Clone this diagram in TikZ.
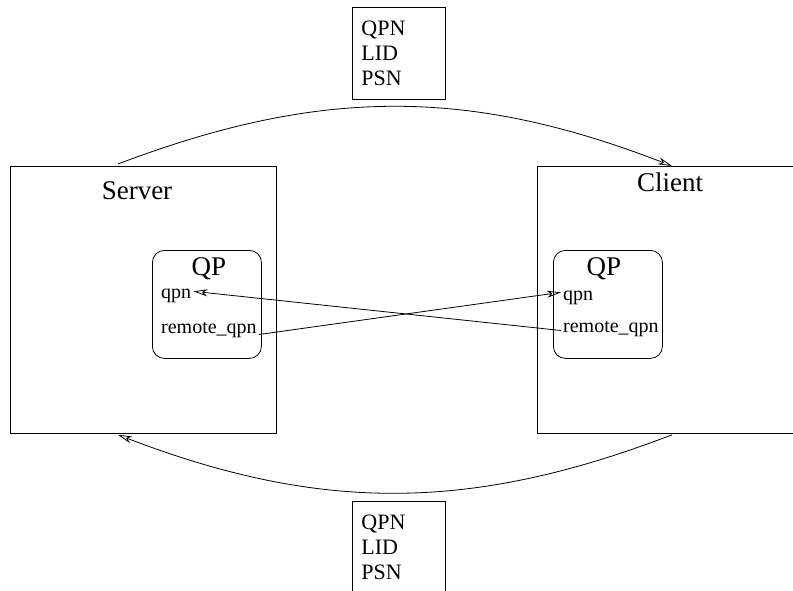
\documentclass[tikz,border=0pt]{standalone}
\usepackage{fontspec}
\setmainfont{Liberation Serif}
\usetikzlibrary{arrows.meta,calc}
\begin{document}
\begin{tikzpicture}[x=1pt,y=1pt]
		% Styles
		\tikzstyle{hostbox}=[draw,line width=0.8pt,minimum width=266pt,minimum height=267pt,anchor=north west,inner sep=0pt]
		\tikzstyle{qpbox}=[draw,line width=0.8pt,rounded corners=12pt,minimum width=109pt,minimum height=108pt,anchor=north west,inner sep=0pt]
		\tikzstyle{msgbox}=[draw,line width=0.8pt,anchor=north west,align=left,text width=75pt,inner xsep=9pt,minimum height=92pt,font=\fontsize{22}{25}\selectfont]
		\tikzstyle{field}=[anchor=base west,inner sep=2pt,font=\fontsize{20}{24}\selectfont]
		\tikzstyle{title}=[anchor=base,inner sep=0pt,font=\fontsize{27}{30}\selectfont]
		\tikzstyle{msgarrow}=[draw,line width=0.8pt,-{Stealth[open,length=14pt,width=7pt,inset=4pt]}]

		\useasboundingbox (0,0) rectangle (793,-590);

		% Hosts
		\node[hostbox] (server) at (10,-166) {};
		\node[hostbox,minimum width=256pt] (client) at (537,-166) {};
		\node[title] (servername) at (137,-199) {Server};
		\node[title] (clientname) at (670,-191) {Client};

		% Queue pairs
		\node[qpbox] (sqp) at (152,-250) {};
		\node[qpbox] (cqp) at (553,-250) {};
		\node[title] (sqpname) at (209,-275) {QP};
		\node[title] (cqpname) at (604,-275) {QP};
		\node[field] (sqpn) at (159,-298) {qpn};
		\node[field] (sremote) at (159,-333) {remote\_qpn};
		\node[field] (cqpn) at (561,-300) {qpn};
		\node[field] (cremote) at (561,-332) {remote\_qpn};

		% Messages
		\node[msgbox] (reqmsg) at (352,-7) {QPN\\LID\\PSN};
		\node[msgbox] (repmsg) at (352,-501) {QPN\\LID\\PSN};

		% End points of the exchange
		\coordinate (srvtop) at ($(server.north west)+(108,2)$);
		\coordinate (clitop) at ($(client.north west)+(135,0)$);
		\coordinate (srvbot) at ($(server.south west)+(108,-1)$);
		\coordinate (clibot) at ($(client.south west)+(135,-1)$);

		% Exchange between hosts
		\path[msgarrow] (srvtop) to[bend left=21] (clitop);
		\path[msgarrow] (clibot) to[bend left=21] (srvbot);

		% Connect queue pairs
		\path[msgarrow] ([yshift=-2pt]cremote.west) -- ([yshift=4pt]sqpn.east);
		\path[msgarrow] ([yshift=-5pt]sremote.east) -- ([yshift=5pt]cqpn.west);
	\end{tikzpicture}
\end{document}
